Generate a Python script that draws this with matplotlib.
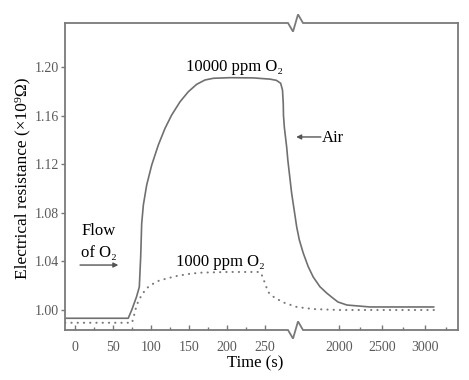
import numpy as np
import matplotlib
matplotlib.use("Agg")
import matplotlib.pyplot as plt

SERIF = ['Liberation Serif', 'DejaVu Serif']
plt.rcParams['font.family'] = SERIF

# ---- data (time in s, resistance in 1e9 ohm) ----
t_10000 = [-13, 70, 74.6, 81, 84.6, 86.4, 87.7, 89.9, 94.3, 100.9, 109.6, 118.4, 127.2,
           138.2, 149, 160, 171, 182, 204, 235, 256.6, 265, 270.6, 273, 274, 274.3,
           275.5, 278.5, 280, 285, 291.7,
           1540, 1585, 1643, 1701, 1779, 1857, 1934, 1989, 2093, 2360, 2700, 3105]
r_10000 = [0.9932, 0.9932, 1.000, 1.011, 1.019, 1.044, 1.071, 1.0864, 1.1029, 1.1193,
           1.1358, 1.1495, 1.1605, 1.1714, 1.1796, 1.1857, 1.1893, 1.1907, 1.1912,
           1.1910, 1.190, 1.189, 1.1866, 1.181, 1.170, 1.160, 1.150, 1.134, 1.1235,
           1.0963, 1.0683,
           1.0576, 1.0469, 1.0357, 1.0272, 1.0192, 1.014, 1.0096, 1.0066, 1.0041,
           1.0025, 1.0025, 1.0025]

t_1000 = [-13, 75, 76.7, 80, 83, 87.7, 94, 101, 110, 121, 134, 149, 164, 182, 200, 217,
          243, 245.6, 250, 254, 263, 276, 291.7,
          1701, 2000, 2500, 3105]
r_1000 = [0.9895, 0.9895, 0.9932, 1.0014, 1.0069, 1.0123, 1.0178, 1.021, 1.024, 1.026,
          1.028, 1.0296, 1.0307, 1.031, 1.0313, 1.0313,
          1.0313, 1.029, 1.022, 1.0148, 1.0099, 1.0058, 1.0025,
          1.0008, 1.000, 1.000, 1.000]

x_major = [0, 50, 100, 150, 200, 250, 2000, 2500, 3000]
x_minor = [25, 75, 125, 175, 225, 2250, 2750, 3250]
y_ticks = [1.00, 1.04, 1.08, 1.12, 1.16, 1.20]

# ---- broken x scale ----
B1, B2, K = 292.0, 1512.0, 0.086 / 0.76


def fwd(x):
    x = np.asarray(x, dtype=float)
    return np.where(x <= B1, x, B1 + (x - B2) * K)


def inv(u):
    u = np.asarray(u, dtype=float)
    return np.where(u <= B1, u, B2 + (u - B1) / K)


fig = plt.figure(figsize=(4.69, 3.80), dpi=100)
ax = fig.add_axes([65 / 469, 1 - 330 / 380, 393 / 469, 307 / 380])
ax.set_xscale('function', functions=(fwd, inv))
ax.set_xlim(-13.2, 3385)
ax.set_ylim(0.98354, 1.2362)

line_col = '#707070'
ax.plot(t_10000, r_10000, color=line_col, lw=1.2, solid_capstyle='round',
        solid_joinstyle='round')
ax.plot(t_1000, r_1000, color='#7a7a7a', lw=1.5, linestyle=(0, (0.1, 2.9)),
        dash_capstyle='round')

# ticks
ax.set_xticks(x_major)
ax.set_xticks(x_minor, minor=True)
ax.set_xticklabels([str(v) for v in x_major])
ax.set_yticks(y_ticks)
ax.set_yticklabels([f"{v:.2f}" for v in y_ticks])
tick_col = '#5a5a5a'
ax.tick_params(axis='x', which='major', direction='in', length=3.5, width=1,
               color='#777777', labelsize=10, labelcolor=tick_col, pad=8)
ax.tick_params(axis='x', which='minor', direction='in', length=2, width=1,
               color='#777777')
ax.tick_params(axis='y', which='major', direction='out', length=3, width=1,
               color='#777777', labelsize=10, labelcolor=tick_col, pad=1.5)

# frame with break marks
frame_col = '#7a7a7a'
for s in ['top', 'bottom']:
    ax.spines[s].set_visible(False)
for s in ['left', 'right']:
    ax.spines[s].set_color(frame_col)
    ax.spines[s].set_linewidth(1.3)

zx = [0, 0.5674, 0.5802, 0.5929, 0.6056, 1.0]
dz = 0.028
for y0 in (0.0, 1.0):
    zy = [y0, y0, y0 - dz, y0 + dz, y0, y0]
    ax.plot(zx, zy, transform=ax.transAxes, color=frame_col, lw=1.3,
            clip_on=False, solid_joinstyle='miter')

# labels
ax.set_xlabel('Time (s)', fontsize=12)
ax.xaxis.set_label_coords(0.483, -0.083)
ax.set_ylabel('Electrical resistance (×10⁹Ω)', fontsize=12.5)
ax.yaxis.set_label_coords(-0.089, 0.495)

# annotations
ax.text(210.5, 1.1967, '10000 ppm O₂', fontsize=12, ha='center', va='baseline')
ax.text(190.8, 1.0362, '1000 ppm O₂', fontsize=12, ha='center', va='baseline')
ax.text(8, 1.0615, 'Flow', fontsize=12, ha='left', va='baseline')
ax.text(8, 1.0440, 'of O₂', fontsize=12, ha='left', va='baseline')
arrow = dict(arrowstyle='-|>', color='#555555', lw=1.0, mutation_scale=7,
             shrinkA=0, shrinkB=0)
ax.annotate('', xy=(57, 1.037), xytext=(6.6, 1.037), arrowprops=arrow)
ax.annotate('', xy=(291, 1.1424), xytext=(1790, 1.1424), arrowprops=arrow)
ax.text(1803, 1.1383, 'Air', fontsize=12, ha='left', va='baseline')

fig.savefig('out.png', dpi=100)
